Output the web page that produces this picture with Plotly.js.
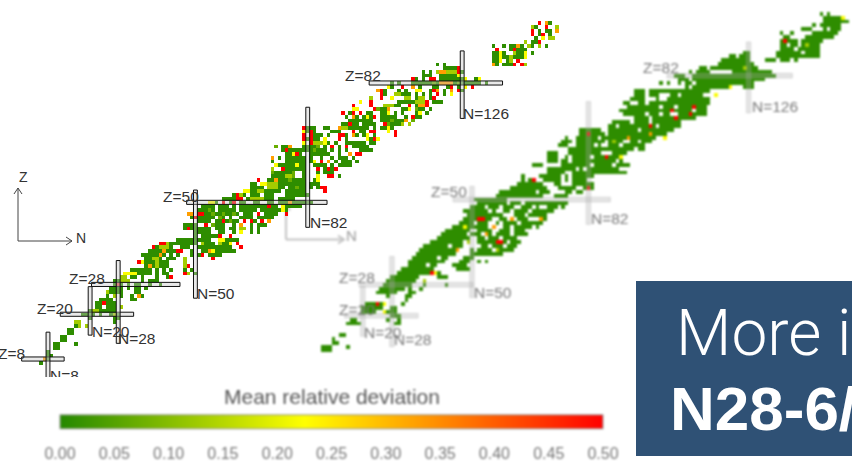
<!DOCTYPE html>
<html><head><meta charset="utf-8">
<script src="https://cdn.plot.ly/plotly-3.0.1.min.js"></script>
<style>
html,body{margin:0;padding:0;background:#fff;overflow:hidden}
#page{position:relative;width:852px;height:462px;overflow:hidden}
#right,#left{position:absolute;left:0;top:0;width:852px;height:462px}
#right{filter:blur(0.8px)}
#left{clip-path:polygon(0 0,852px 0,852px 462px,630px 462px,630px 377px,0 377px)}
</style></head><body>
<div id="page"><div id="right"></div><div id="left"></div></div>
<script>
// ---------- deviation classes ----------
const devGreen=0.01, devLime=0.07, devOlive=0.13, devYellow=0.22, devOrange=0.33, devRed=0.5;
// ---------- left panel: each row is [Z, from N, to N, from N, to N, ...] ----------
const leftGreen=[
[7,6,6],[8,8,8],[9,8,9],[10,8,8],[11,10,11],[12,10,11,16,16],[13,12,13],[14,12,13],[15,14,15],[16,14,15],
[17,16,16],[18,27,27],[19,20,20,27,28],[20,18,21,23,23,26,28],[21,20,27],[22,22,23,25,27],[23,22,27],[24,23,26,32,33],
[25,25,25,29,29,32,32,35,35],[26,26,29,33,34],[27,26,29,31,31,33,34,36,36],[28,27,27,29,29,31,31,33,34,37,37,40,40],
[29,27,31,35,35,37,39],[30,32,33,35,35,39,39,42,42],[31,34,37,39,39,41,42,50,50],[32,32,37,39,39,41,41,43,43,47,47,49,49],
[33,36,42],[34,36,42],[35,36,40,42,44,47,47],[36,35,41,43,43,45,45,49,49,51,51,54,57],[37,37,40,42,44,49,49,52,53,56,61],[38,39,39,42,43,46,48,51,53,54,55,56,60],
[39,42,50,53,55,57,59],[40,45,49,50,54,57,62],[41,50,50,52,56],[42,50,54,57,58,61,61,66,66,68,68],[43,47,54,56,58,60,61,63,64,66,66,68,68],
[44,47,50,56,58,61,61,66,66,68,70],[45,51,54,56,57,59,62,67,67],[46,49,54,55,55,58,58,60,60,63,66,68,72],[47,52,56,57,58,59,62,64,66,70,73],[48,51,55,57,61,63,67,69,76],
[49,52,55,57,59,61,61,63,65,66,70,72,73,75,80],[50,56,56,60,60,63,64,67,68,71,72,74,76,78,83],[51,58,61,65,72,74,78],[52,61,61,63,64,66,68,70,72,76,82],
[53,66,74,76,81],[54,66,69,71,72,72,75,77,81,83,83,85,85,87,87],[55,66,67,70,76,77,81,83,85],[56,71,81,84,85],[57,72,78,81,81,85,85,88,88,91,91],
[58,72,78,81,81,85,85,87,89],[59,72,72,75,81,85,85,87,90],[60,73,81,84,87,89,89,91,94],[61,72,72,76,81,83,83,86,86,88,88,90,90,92,94,96,96],[62,72,72,74,74,76,81,83,83,86,86,89,89,91,93,95,95],
[63,76,77,80,80,83,88,91,91,94,94,96,97],[64,75,87,89,89,91,91,93,93,97,100],[65,75,77,81,85,87,87,89,89,91,91,93,93,95,99],[66,83,86,88,88,90,90,93,98,100,101],
[67,81,85,87,87,91,91,93,93,99,100,102,102],[68,81,81,83,86,88,88,92,93,95,96,98,98,101,101],[69,81,84,89,91,95,95,97,98,101,101],[70,81,84,87,88,91,99,101,101,103,106],
[71,92,93,95,96,98,101,105,109],[72,94,100,103,110],[73,93,93,96,96,98,101,103,107,110,110,113,114],[74,92,92,94,94,97,97,99,100,103,104,107,107,109,109,113,113,116,116],
[75,95,96,101,105,109,111,113,115,117,117],[76,95,95,105,108,111,111,113,113],[77,97,97,108,112,114,115,118,120],[78,100,100,103,103,110,111,113,115,117,118],[79,103,104,107,111,113,113,115,115,117,117,121,121],
[80,102,104,108,108,110,110,114,114,117,117,121,121,126,126],[81,106,106,109,109,114,114,118,119,122,123,125,125],[82,106,106,108,108,112,127,128,131,133,133],
[83,113,113,115,115,120,126,130,131],[84,115,117,120,124],[85,115,115,117,117,122,126],[86,121,124],[87,119,119,121,121,135,136,138,141],
[88,135,137,139,140],[89,135,136,138,139,141,143],[90,135,136,138,138,141,143,146,146],[91,136,136,140,144],[92,135,135,138,138,140,141,143,143,146,146,148,148,150,150],
[93,144,144,146,147],[94,147,147,151,152],[95,148,148,151,151],[96,148,148,150,151],[97,147,147],[98,151,151]];
// ---------- left panel: coloured cells as [N, Z] ----------
const leftLime=[[54,48],[55,47],[57,46],[58,47],[60,45],[55,44],[61,47],[72,58],[73,65],[78,58],[77,56],[78,57],[79,54],[84,64],[85,65],[102,75],[106,72],[105,71],[113,75],[112,72],[118,82],[125,82]];
const leftOlive=[[17,17],[19,17],[16,18],[17,18],[27,20],[21,21],[22,21],[29,22],[27,25],[25,26],[29,30],[30,30],[29,29],[30,29],[31,29],[48,31],[39,33],[39,34],[47,33],[47,34],[47,35],[38,35],[39,35],[52,39],[57,39],[54,50],[63,52],[66,51],[67,51],[68,51],[69,51],[68,53],[69,53],[71,54],[72,54],[73,54],[71,55],[72,55],[73,55],[76,57],[77,57],[72,59],[42,38],[41,38],[40,38],[42,39],[64,43],[63,43],[84,66],[85,66],[86,66],[145,92],[148,92],[141,90],[140,89],[140,88],[144,87],[146,97],[153,97],[151,94],[152,94],[144,93],[119,85],[122,85],[123,85],[124,85],[107,79],[108,79],[100,78],[110,78],[111,78],[114,78],[115,78],[97,77],[113,77],[114,77],[115,77],[104,76],[105,76],[106,76],[109,71],[111,71],[92,70],[93,70]];
const leftYellow=[[30,31],[31,31],[32,31],[33,31],[35,34],[64,53],[65,53],[69,55],[70,55],[75,48],[73,60],[79,60],[84,61],[78,63],[63,42],[57,40],[58,40],[60,39],[85,56],[85,57],[81,68],[81,69],[81,66],[87,67],[87,66],[96,75],[97,77],[99,67],[99,68],[102,67],[137,90],[144,90],[137,89],[144,89],[137,88],[149,94],[127,83],[131,83],[125,84],[127,81],[105,81],[113,80],[114,80],[123,79],[106,78],[95,75],[111,75],[105,74],[114,74],[99,73],[105,70],[105,69],[54,50],[55,50],[55,37],[75,49]];
const leftOrange=[[7,8],[34,25],[37,33],[41,37],[40,36],[54,37],[48,47],[49,47],[63,44],[71,45],[77,50],[73,56],[72,62],[77,65],[88,61],[91,70],[95,69],[94,63],[142,92],[150,98],[153,96],[135,87],[120,85],[121,85],[120,82],[121,82],[122,82],[123,82],[112,81],[102,80],[119,80],[123,80],[114,76],[115,76],[105,75],[95,73],[110,72],[91,70],[95,68]];
const leftRed=[[28,28],[24,23],[43,30],[47,31],[34,34],[48,33],[38,38],[45,37],[46,37],[40,39],[41,39],[48,43],[51,47],[52,47],[53,44],[58,45],[64,45],[66,45],[69,45],[50,46],[58,50],[61,50],[71,49],[68,47],[76,47],[57,41],[60,41],[62,39],[63,38],[52,36],[55,35],[62,51],[63,51],[62,52],[68,56],[88,57],[89,57],[86,54],[87,54],[87,53],[75,59],[85,59],[88,59],[90,59],[86,61],[79,63],[76,64],[96,63],[97,63],[89,65],[93,65],[83,66],[83,67],[91,67],[101,67],[83,68],[92,68],[81,68],[81,67],[83,69],[101,69],[81,70],[148,98],[150,97],[146,96],[146,95],[149,95],[148,93],[136,91],[141,91],[142,88],[141,87],[143,87],[125,86],[125,85],[112,83],[117,83],[118,83],[109,81],[123,81],[129,81],[103,80],[118,80],[125,80],[103,79],[119,79],[103,78],[118,78],[100,77],[116,77],[95,76],[111,76],[116,76],[92,74],[95,74],[97,74],[97,74],[101,73],[101,75],[112,73],[94,71],[104,71],[95,69],[107,69],[91,68],[100,69],[107,68],[100,76]];
// ---------- right panel: each row is [Z, from N, to N, ...] ----------
const rightGreen=[
[11,9,11],[12,9,11,16,16],[13,12,13],[14,12,12],[15,14,15],[18,16,19,29,30],[19,17,18,27,27,30,30],[20,28,30],[21,20,23,27,29],[22,20,25,28,29],[23,21,25,31,31],
[24,32,32],[25,27,27,32,33],[26,24,29,33,34],[27,25,31,33,33,36,36],[28,26,33,37,37,43,43],[29,27,34],[30,28,35,41,43],[31,30,38,41,41],[32,31,39,46,49],
[33,33,40,45,48],[34,33,42,47,49,52,52,54,54],[35,34,43,48,50],[36,35,45,50,52,53,58],[37,36,46,50,61],[38,37,47,53,62],[39,39,47,52,63],[40,41,49,52,62],
[41,42,48,50,60,62,65],[42,43,49,52,55,58,60,62,64],[43,45,54,56,56,59,60,62,66,68,68],[44,47,50,52,54,57,62,64,69],[45,48,55,58,59,61,61,63,67,69,70],[46,49,58,62,70],[47,48,56,59,60,62,65,67,72],
[48,50,61,64,73,75,75],[49,51,73,74,76],[50,51,59],[51,57,69,73,77],[52,58,71,76,80],[53,61,70,74,78,81,83],[54,63,70,73,74,78,83],[55,64,64,66,67,70,74,76,76,78,81],[56,64,64,69,74,76,76,78,83],
[57,71,76,78,83,84,92],[58,71,78,80,90],[59,67,69,75,82,84,93],[60,71,73,75,76,78,85,86,91],[61,71,73,76,85,86,86,88,91],[62,71,73,77,85,88,92],[63,77,87,88,94,96,97],[64,74,76,79,83,84,86,88,90,92,97],[65,75,77,79,86,88,91,94,99],
[66,76,76,79,87,88,92,94,100],[67,80,86,88,93,94,103],[68,80,85,88,98,99,105],[69,88,89,91,98,99,107],[70,89,98,100,107],[71,95,98,99,106,107,111],[72,92,94,95,97,99,104,107,109,111,114],
[73,91,93,94,98,99,104,106,110,112,114],[74,93,95,96,101,103,105,107,111,112,114],[75,92,93,96,97,99,103,104,107,108,115],[76,94,97,101,101,104,107,108,115],[77,95,97,99,101,105,106,108,113],[78,95,97,99,102,103,104,105,109,110,115],
[79,109,109,111,120,121,121,125,127],[80,102,102,104,104,107,107,109,110,112,123,124,127],[81,107,109,111,130],[82,106,108,111,133],[83,110,110,112,115,122,125,126,132],
[84,113,114,116,128],[85,118,127],[86,119,126,131,133,135,137,139,139],[87,121,122,124,126,134,145],[88,125,126,134,140,142,145],[89,135,142,143,145],[90,135,145],[91,135,139,141,146],
[92,136,137,142,149],[93,135,135,138,138,144,150],[94,141,143,147,151],[95,144,151],[96,147,153],[97,147,152],[98,146,146,148,148]];
const rightHoles=[[55,47],[58,48],[65,46],[67,48],[69,48],[70,48],[66,45],[67,45],[68,52],[70,54],[71,54],[76,57],[77,61],[79,58],[81,58],[77,51],[78,52],[84,64],[86,64],[106,74],[99,71],[102,72],[94,70],[96,68],[101,69],[108,70],[102,66],[96,65],[88,62],[90,60],[85,66],[83,61],[89,59],[139,89],[141,88],[137,90],[140,90],[145,95],[148,94],[58,44],[63,44],[44,38],[41,35],[38,33],[51,49],[54,48],[60,49],[64,49],[55,38],[59,38],[54,40],[58,40],[60,39],[56,37],[53,41],[56,41],[51,37]];
const rightOlive=[[37,29],[57,37],[49,39],[142,90],[125,84],[89,65]];
const rightYellow=[[40,31],[26,23],[26,21],[48,43],[152,97],[121,79],[117,77],[103,66],[91,61]];
const rightOrange=[[46,37],[56,43],[54,41],[61,45],[69,45],[99,67],[93,66]];
const rightRed=[[39,31],[24,23],[52,45],[53,45],[57,39],[58,39],[67,55],[82,53],[136,91],[111,74],[110,72],[106,71],[105,73],[99,69],[87,61],[82,67]];
// ---------- magic-number bars: value, extent along the other axis ----------
const leftBarZ=[8,20,28,50,82], leftBarZFrom=[0.5,11.5,20.4,47.5,99.5], leftBarZTo=[12.6,32.4,45.6,87.5,137.5];
const leftBarN=[8,20,28,50,82,126], leftBarNFrom=[2,14.4,12.2,24.3,43.3,72.5], leftBarNTo=[15.2,27.4,34.4,53.3,75.5,90.6];
const rightBarZ=[20,28,50,82], rightBarZFrom=[15,19,44.8,103.6], rightBarZTo=[35.2,50.3,88,138];
const rightBarN=[20,28,50,82,126], rightBarNFrom=[14.7,12,24.7,43.6,72.4],rightBarNTo=[27.6,35.3,53.4,75.3,90.7];
// ---------- texts ----------
const leftLabels=["Z=8","N=8","Z=20","N=20","Z=28","N=28","N=50","Z=50","N=82","Z=82","N=126"];
const rightLabels=["Z=20","N=20","Z=28","N=28","N=50","Z=50","N=82","Z=82","N=126"];
const colorTicks=[0,0.05,0.1,0.15,0.2,0.25,0.3,0.35,0.4,0.45,0.5];
const colorTickText=["0.00","0.05","0.10","0.15","0.20","0.25","0.30","0.35","0.40","0.45","0.50"];
const colorTitle="Mean relative deviation";
const bannerTop="More i", bannerBottom="N28-6/";

const W=852,H=462;
const scale=[[0,'#248800'],[0.45,'#ffff00'],[1,'#ff0000']];
function grid(rows,holes,classes){
  const z=[];for(let i=0;i<=100;i++)z.push(new Array(161).fill(null));
  rows.forEach(r=>{for(let k=1;k<r.length;k+=2)for(let n=r[k];n<=r[k+1];n++)z[r[0]][n]=devGreen;});
  holes.forEach(p=>{z[p[1]][p[0]]=null;});
  classes.forEach(c=>c[0].forEach(p=>{z[p[1]][p[0]]=c[1];}));
  return z;
}
const px=(x)=>x/W, py=(y)=>1-y/H;
function lab(t,x,y,anchor,size,color){return {text:t,xref:'paper',yref:'paper',x:px(x),y:py(y),xanchor:anchor,yanchor:'middle',showarrow:false,font:{family:'Liberation Sans',size:size,color:color}};}
const noAxis={visible:false,fixedrange:true};
function bars(Z,ZF,ZT,N,NF,NT,hw,lineC,fill){
  const s=[];
  Z.forEach((v,i)=>s.push({type:'rect',xref:'x',yref:'y',x0:ZF[i],x1:ZT[i],y0:v-hw,y1:v+hw,line:{color:lineC,width:1},fillcolor:fill}));
  N.forEach((v,i)=>s.push({type:'rect',xref:'x',yref:'y',x0:v-hw,x1:v+hw,y0:NF[i],y1:NT[i],line:{color:lineC,width:1},fillcolor:fill}));
  return s;
}
function arrow(x0,y0,x1,y1,c,w){
  return [{type:'path',xref:'paper',yref:'paper',path:`M${px(x0)},${py(y0)}L${px(x0)},${py(y1)}`,line:{color:c,width:w}},
  {type:'path',xref:'paper',yref:'paper',path:`M${px(x0)},${py(y0)}L${px(x1)},${py(y0)}`,line:{color:c,width:w}},
  {type:'path',xref:'paper',yref:'paper',path:`M${px(x1-6)},${py(y0-4)}L${px(x1)},${py(y0)}L${px(x1-6)},${py(y0+4)}`,line:{color:c,width:w}},
  {type:'path',xref:'paper',yref:'paper',path:`M${px(x0-4)},${py(y1+6)}L${px(x0)},${py(y1)}L${px(x0+4)},${py(y1+6)}`,line:{color:c,width:w}}];
}
const tickMarks=colorTicks.slice(1,-1).map(v=>({type:'line',xref:'paper',yref:'paper',x0:px(60+543*v/0.5),x1:px(60+543*v/0.5),y0:py(429),y1:py(415),line:{color:'rgba(0,0,0,0.12)',width:1}}));
const rightTrace={type:'heatmap',z:grid(rightGreen,rightHoles,[[rightOlive,devOlive],[rightYellow,devYellow],[rightOrange,devOrange],[rightRed,devRed]]),x0:0,dx:1,y0:0,dy:1,
  zmin:0,zmax:0.5,colorscale:scale,hoverinfo:'skip',zsmooth:false,showscale:true,
  colorbar:{orientation:'h',x:331.5/W,xanchor:'center',y:py(463),yanchor:'bottom',lenmode:'pixels',len:543,thickness:14,thicknessmode:'pixels',xpad:0,ypad:0,
    outlinecolor:'#999',outlinewidth:1,tickmode:'array',tickvals:colorTicks,ticktext:colorTickText,ticks:'outside',ticklen:11,tickcolor:'rgba(0,0,0,0)',
    tickfont:{family:'Liberation Sans',size:16,color:'#777'}}};
const rightLayout={width:W,height:H,margin:{l:0,r:0,t:0,b:0},paper_bgcolor:'#fff',plot_bgcolor:'rgba(0,0,0,0)',showlegend:false,
  xaxis:Object.assign({range:[-79.67,154.4]},noAxis),yaxis:Object.assign({range:[-17.53,101.55]},noAxis),
  shapes:bars(rightBarZ,rightBarZFrom,rightBarZTo,rightBarN,rightBarNFrom,rightBarNTo,0.6,'rgba(170,170,170,0.35)','rgba(170,170,170,0.3)').concat(arrow(286,240,344,205,'#c4c4c4',2),tickMarks),
  annotations:[lab(colorTitle,332,397,'center',21,'#555'),lab(rightLabels[0],337,310,'left',15.5,'#777'),lab(rightLabels[1],362,333,'left',15.5,'#777'),lab(rightLabels[2],337,278,'left',15.5,'#777'),lab(rightLabels[3],392,340,'left',15.5,'#777'),
   lab(rightLabels[4],472,293,'left',15.5,'#777'),lab(rightLabels[5],429,192,'left',15.5,'#777'),lab(rightLabels[6],589,219,'left',15.5,'#777'),lab(rightLabels[7],641,68,'left',15.5,'#777'),lab(rightLabels[8],750,107,'left',15.5,'#777'),
   lab('N',344,236,'left',15,'#999')]};
const leftTrace={type:'heatmap',z:grid(leftGreen,[],[[leftLime,devLime],[leftOlive,devOlive],[leftYellow,devYellow],[leftOrange,devOrange],[leftRed,devRed]]),x0:0,dx:1,y0:0,dy:1,
  zmin:0,zmax:0.5,colorscale:scale,hoverinfo:'skip',zsmooth:false,showscale:false};
const leftLayout={width:W,height:H,margin:{l:0,r:0,t:0,b:0},paper_bgcolor:'rgba(0,0,0,0)',plot_bgcolor:'rgba(0,0,0,0)',showlegend:false,
  xaxis:Object.assign({range:[-5.675,237.06]},noAxis),yaxis:Object.assign({range:[-19.61,104.25]},noAxis),
  shapes:bars(leftBarZ,leftBarZFrom,leftBarZTo,leftBarN,leftBarNFrom,leftBarNTo,0.55,'#111','rgba(200,200,200,0.4)').concat(arrow(18,241,72,188,'#444',1),
   [{type:'rect',xref:'paper',yref:'paper',x0:px(636),x1:1,y0:py(456),y1:py(281),line:{width:0},fillcolor:'#2f5175'}]),
  annotations:[lab(leftLabels[0],-4,353,'left',15.5,'#333'),lab(leftLabels[1],48,375,'left',15.5,'#333'),lab(leftLabels[2],35,308,'left',15.5,'#333'),lab(leftLabels[3],90,331,'left',15.5,'#333'),
   lab(leftLabels[4],67,278,'left',15.5,'#333'),lab(leftLabels[5],116,338,'left',15.5,'#333'),lab(leftLabels[6],195,293,'left',15.5,'#333'),lab(leftLabels[7],161,196,'left',15.5,'#333'),
   lab(leftLabels[8],308,222,'left',15.5,'#333'),lab(leftLabels[9],343,76,'left',15.5,'#333'),lab(leftLabels[10],461,114,'left',15.5,'#333'),
   lab('Z',17,177,'left',14,'#333'),lab('N',74,238,'left',14,'#333'),
   {text:bannerTop,xref:'paper',yref:'paper',x:px(674),y:py(333),xanchor:'left',yanchor:'middle',showarrow:false,font:{family:'Roboto',weight:300,size:64,color:'#fff'}},
   {text:bannerBottom,xref:'paper',yref:'paper',x:px(668),y:py(408),xanchor:'left',yanchor:'middle',showarrow:false,font:{family:'Liberation Sans',weight:700,size:62,color:'#fff'}}]};
const cfg={staticPlot:true,displayModeBar:false};
Plotly.newPlot('right',[rightTrace],rightLayout,cfg);
Plotly.newPlot('left',[leftTrace],leftLayout,cfg);
</script></body></html>
